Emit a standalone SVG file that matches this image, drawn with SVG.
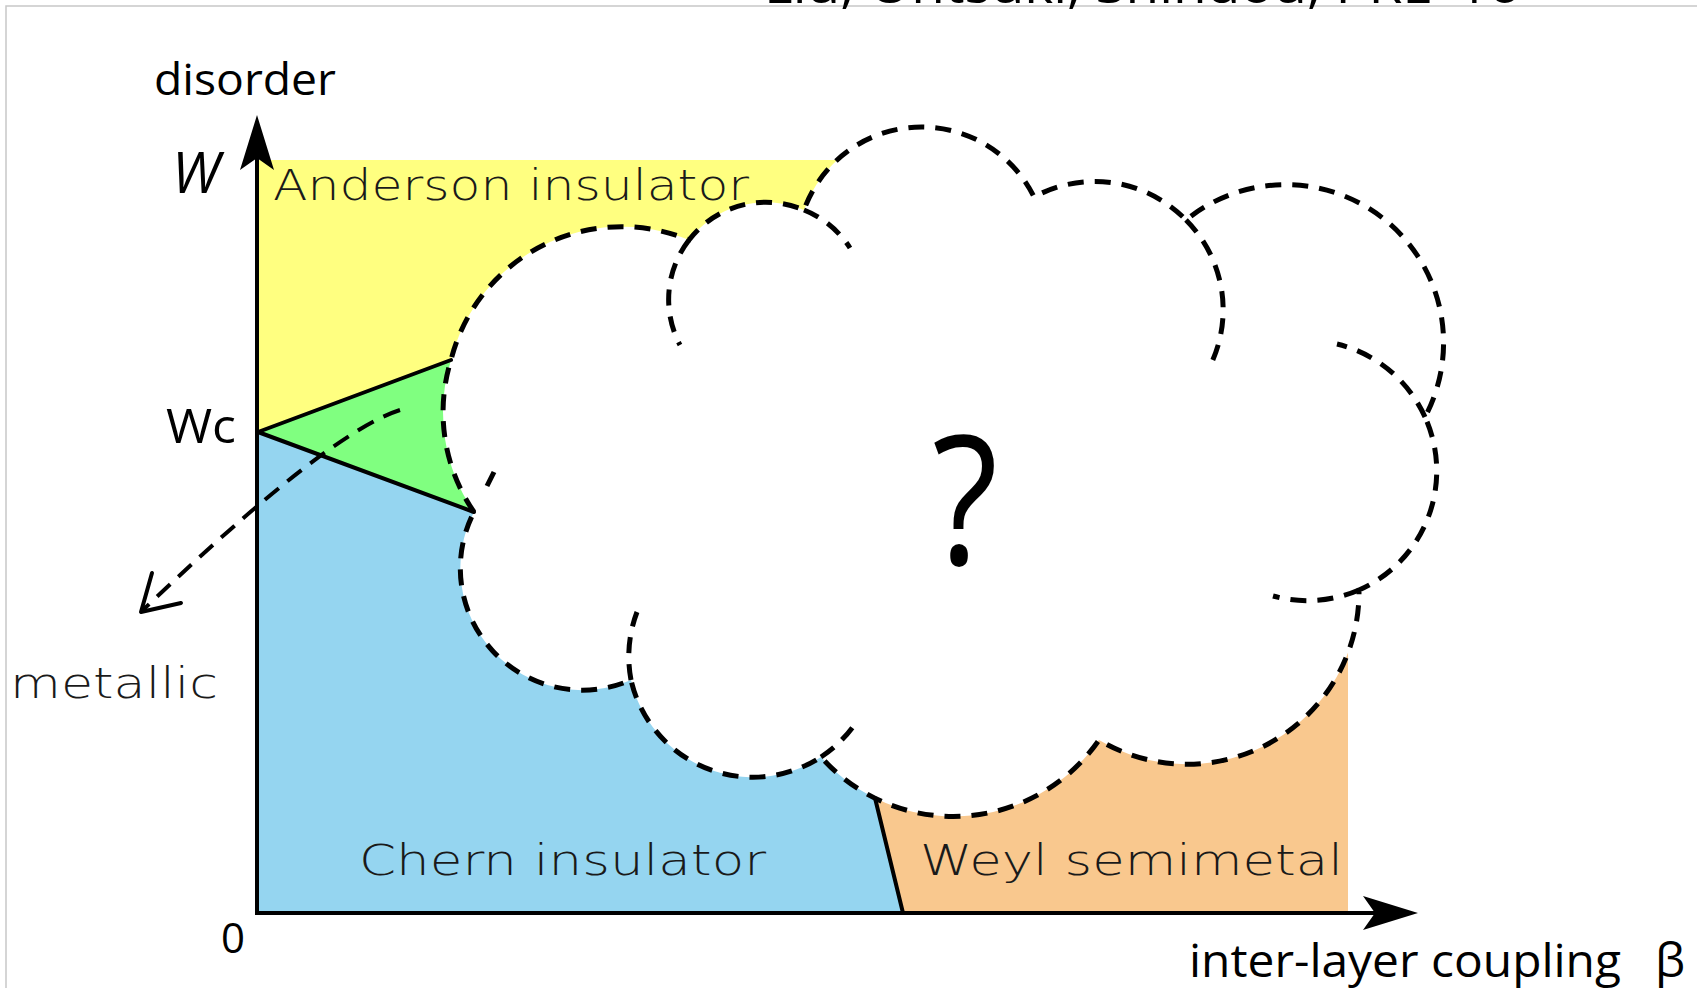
<svg xmlns="http://www.w3.org/2000/svg" width="1697" height="988" viewBox="0 0 1697 988">
<style>
.frame{fill:none;stroke:#c8c8c8;stroke-width:1.5}
.solid{fill:none;stroke:#000;stroke-width:4;stroke-linecap:round;stroke-linejoin:round}
.dash{fill:none;stroke:#000;stroke-width:5;stroke-dasharray:16 11}
.axis{fill:none;stroke:#000;stroke-width:4}
.hand{font-family:"DejaVu Sans","Noto Sans",sans-serif;font-weight:200;fill:#1a1a1a;font-size:43px}
.lab{font-family:"Open Sans","Liberation Sans",sans-serif;fill:#000}
</style>
<defs>
<marker id="ah" markerUnits="userSpaceOnUse" viewBox="0 0 55 34" markerWidth="55" markerHeight="34" refX="35" refY="17" orient="auto">
<path d="M0,0 L55,17 L0,34 L12,17 Z" fill="#000"/>
</marker>
</defs>
<path class="frame" d="M1697,6 H6 V988"/>
<text class="lab" x="764" y="3" font-size="50" textLength="756" lengthAdjust="spacingAndGlyphs">Liu, Ohtsuki, Shindou, PRL '16</text>

<g id="regions">
<path id="chern" d="M257,432 L474,512 L560,600 L740,680 L875,798 L903,913 L257,913 Z" fill="#95D5F0"/>
<path id="weyl" d="M875,798 L1000,700 L1200,600 L1348,620 L1348,913 L903,913 Z" fill="#F9C88E"/>
<path id="anderson" d="M257,160 L880,160 L880,200 L700,300 L451,360 L257,432 Z" fill="#FFFF80"/>
<path id="intermediate" d="M257,432 L451,360 L474,512 Z" fill="#80FF80"/>
</g>

<g id="cloud">
<path d="M451,360 A176,176 0 0 1 689,240 A97,97 0 0 1 804,210 A125,125 0 0 1 1034,197 A127,127 0 0 1 1186,220 A158,158 0 0 1 1425,417 A130,130 0 0 1 1359,590 A172,172 0 0 1 1099,740 A177,177 0 0 1 821,757 A125,125 0 0 1 631,680 A122,122 0 0 1 474,512 A176,176 0 0 1 451,360 Z" fill="#fff"/>
</g>

<g id="connectors">
<path class="solid" d="M451,360 L258,432 L474,512"/>
<path class="solid" d="M875,798 L903,913"/>
<path class="dash" d="M474,512 A176,176 0 0 1 451,360 A176,176 0 0 1 689,240 A97,97 0 0 1 804,210 A125,125 0 0 1 1034,197 A127,127 0 0 1 1186,220 A158,158 0 0 1 1425,417 A130,130 0 0 1 1359,590 A172,172 0 0 1 1099,740 A177,177 0 0 1 821,757 A125,125 0 0 1 631,680 A122,122 0 0 1 474,512"/>
<path class="dash" d="M689,240 A97,97 0 0 0 680,345"/>
<path class="dash" d="M804,210 A97,97 0 0 1 850,248"/>
<path class="dash" d="M1186,220 A127,127 0 0 1 1209,368"/>
<path class="dash" d="M1425,417 A130,130 0 0 0 1337,344"/>
<path class="dash" d="M1359,590 A130,130 0 0 1 1273,596"/>
<path class="dash" d="M821,757 A125,125 0 0 0 855,724"/>
<path class="dash" d="M631,680 A125,125 0 0 1 637,612"/>
<path class="dash" d="M487,486 L494,472"/>
<path class="axis" d="M257,913 V135" marker-end="url(#ah)"/>
<path class="axis" d="M255,913 H1398" marker-end="url(#ah)"/>
<path class="dash" style="stroke-width:4;stroke-dasharray:18 11" d="M400,410 Q328,433 143,610"/>
<path class="solid" d="M152,573 L141,612 L181,603"/>
</g>

<g id="labels">
<text class="lab" x="154" y="95" font-size="44" textLength="182" lengthAdjust="spacingAndGlyphs">disorder</text>
<text class="lab" x="172" y="193" font-size="56" font-style="italic">W</text>
<text class="lab" x="166" y="443" font-size="48" textLength="70" lengthAdjust="spacingAndGlyphs">Wc</text>
<text class="lab" x="221" y="953" font-size="42">0</text>
<text class="lab" x="1189" y="977" font-size="46" textLength="432" lengthAdjust="spacingAndGlyphs">inter-layer coupling</text>
<text class="lab" x="1655" y="977" font-size="48">β</text>
<text class="hand" x="273" y="200" textLength="476" lengthAdjust="spacingAndGlyphs">Anderson insulator</text>
<text class="hand" x="359" y="875" textLength="407" lengthAdjust="spacingAndGlyphs">Chern insulator</text>
<text class="hand" x="920" y="875" textLength="423" lengthAdjust="spacingAndGlyphs">Weyl semimetal</text>
<text class="hand" x="10" y="698" textLength="208" lengthAdjust="spacingAndGlyphs">metallic</text>
<text class="lab" x="932" y="565" font-size="180" font-weight="400" transform="translate(932 0) scale(0.85 1) translate(-932 0)">?</text>
</g>
</svg>
